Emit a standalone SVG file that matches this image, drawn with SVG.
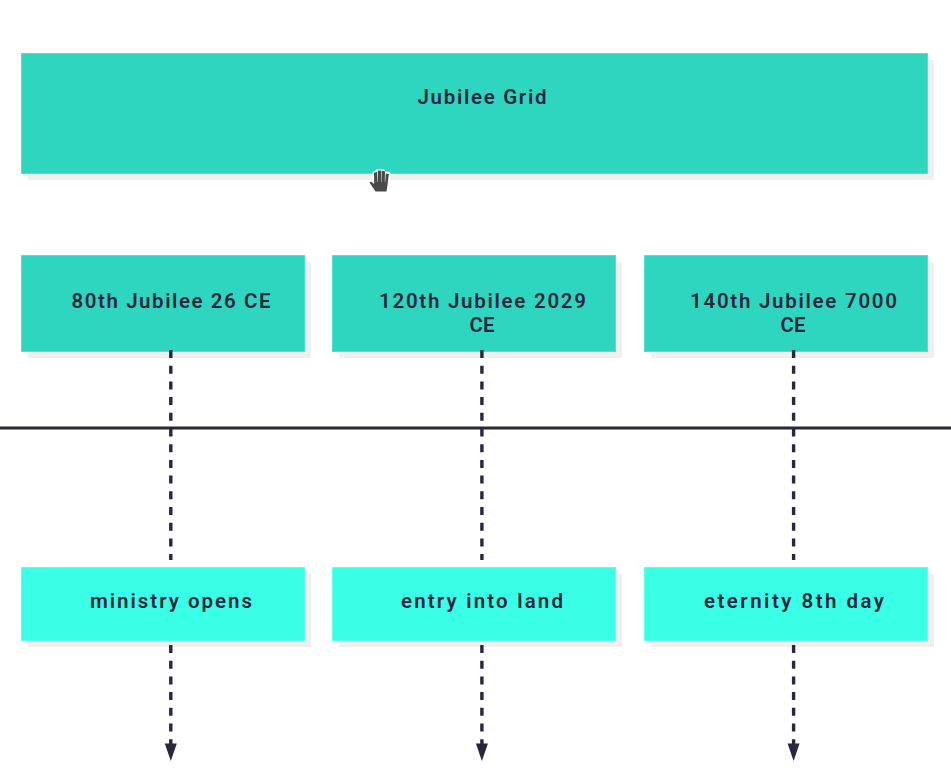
<svg xmlns="http://www.w3.org/2000/svg" width="951" height="780" viewBox="0 0 951 780">
<style>
.t{font-family:"Roboto","Noto Sans",sans-serif;font-size:20.500px;font-weight:600;fill:#2a2640;text-anchor:middle}
.shadow{fill:#f0f0f0}
.a{fill:#2ed6c0;stroke:#48e6d0;stroke-width:1}
.b{fill:#38ffe6;stroke:#60ffeb;stroke-width:1}
.c{fill:none;stroke:#2a2640;stroke-width:3.400;stroke-dasharray:8 7.7}
</style>
<rect width="951" height="780" fill="#fff"/>
<g id="title"><rect class="shadow" x="28" y="60" width="906" height="120"/><rect class="a" x="21.500" y="53.500" width="906" height="120"/><text class="t" x="482" y="104" textLength="129" lengthAdjust="spacing">Jubilee Grid</text></g>
<g id="n80"><rect class="shadow" x="28" y="262" width="283" height="96"/><rect class="a" x="21.500" y="255.500" width="283" height="96"/><text class="t" x="171" y="308" textLength="199" lengthAdjust="spacing">80th Jubilee 26 CE</text></g>
<g id="n120"><rect class="shadow" x="339" y="262" width="283" height="96"/><rect class="a" x="332.500" y="255.500" width="283" height="96"/><text class="t" x="482.500" y="308" textLength="207" lengthAdjust="spacing">120th Jubilee 2029</text><text class="t" x="482" y="332" textLength="25" lengthAdjust="spacing">CE</text></g>
<g id="n140"><rect class="shadow" x="651" y="262" width="283" height="96"/><rect class="a" x="644.500" y="255.500" width="283" height="96"/><text class="t" x="793.500" y="308" textLength="207" lengthAdjust="spacing">140th Jubilee 7000</text><text class="t" x="793" y="332" textLength="25" lengthAdjust="spacing">CE</text></g>
<g id="ministry"><rect class="shadow" x="28" y="574" width="283" height="73"/><rect class="b" x="21.500" y="567.500" width="283" height="73"/><text class="t" x="171" y="608" textLength="162" lengthAdjust="spacing">ministry opens</text></g>
<g id="entry"><rect class="shadow" x="339" y="574" width="283" height="73"/><rect class="b" x="332.500" y="567.500" width="283" height="73"/><text class="t" x="482" y="608" textLength="162" lengthAdjust="spacing">entry into land</text></g>
<g id="eternity"><rect class="shadow" x="651" y="574" width="283" height="73"/><rect class="b" x="644.500" y="567.500" width="283" height="73"/><text class="t" x="794" y="608" textLength="180" lengthAdjust="spacing">eternity 8th day</text></g>
<g id="connectors">
<line x1="0" y1="428" x2="951" y2="428" stroke="#2a2640" stroke-width="3"/>
<path class="c" d="M170.800 350V560"/><path class="c" d="M481.900 350V560"/><path class="c" d="M793.600 350V560"/>
<path class="c" d="M170.800 645V745"/><path class="c" d="M481.900 645V745"/><path class="c" d="M793.600 645V745"/>
<path d="M164.800 743.500H176.800L170.800 761Z" fill="#2a2640"/><path d="M475.900 743.500H487.900L481.900 761Z" fill="#2a2640"/><path d="M787.600 743.500H799.600L793.600 761Z" fill="#2a2640"/>
</g>
<g id="hand">
<path d="M374 192.500L368 182L370 180L373 180.500L373 172L376 171L377 169.500L384 169.500L385 172L390 172.500L389 185L387.500 192.500Z" fill="#fff" stroke="#fff" stroke-width="1"/>
<path fill="#4a4a4a" d="M375.500 191.500L369.500 182.500L371 181.500L374.200 184L374 172.800L377 172L377.600 182L378 182L377.800 170.500L381.200 170.500L381.200 182L381.600 182L381.800 170.800L385 171.200L384.800 182L385.200 182L385.800 173.500L388.800 174L387.500 185L386.500 191.500Z"/>
</g>
</svg>
